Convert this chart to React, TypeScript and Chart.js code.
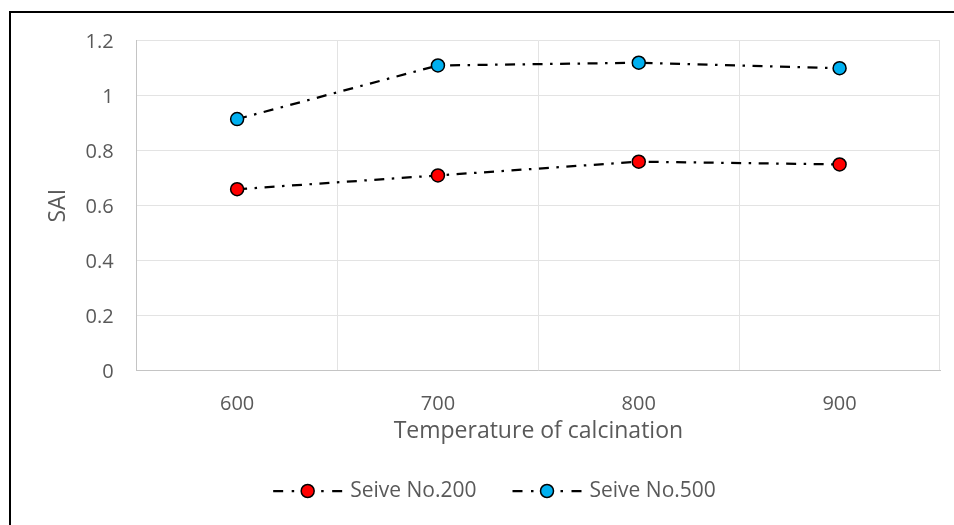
import React, { useEffect, useRef } from 'react';
import { Chart, registerables } from 'chart.js';

Chart.register(...registerables);

const categories = ['600', '700', '800', '900'];
const seive200 = [0.66, 0.71, 0.76, 0.75];
const seive500 = [0.915, 1.11, 1.12, 1.1];
const seriesLabels = ['Seive No.200', 'Seive No.500'];
const seriesColors = ['#ff0000', '#00b0f0'];
const yMin = 0;
const yMax = 1.2;
const yStep = 0.2;
const xTitle = 'Temperature of calcination';
const yTitle = 'SAI';

const FONT = "'Open Sans', 'Noto Sans', sans-serif";
const TEXT = '#595959';
const DASH = [10, 7.5, 2.5, 7.5];

const legendPlugin = {
  id: 'excelLegend',
  afterDraw(chart: any) {
    const ctx = chart.ctx as CanvasRenderingContext2D;
    ctx.save();
    ctx.font = `21px ${FONT}`;
    const lineW = 70;
    const textGap = 7;
    const itemGap = 36;
    const items = chart.data.datasets.map((ds: any) => ({
      ds,
      w: lineW + textGap + ctx.measureText(ds.label).width,
    }));
    const total = items.reduce((s: number, i: any) => s + i.w, 0) + itemGap * (items.length - 1);
    let x = 494.5 - total / 2;
    const y = 491;
    for (const it of items) {
      ctx.strokeStyle = '#000';
      ctx.lineWidth = 2.25;
      ctx.lineCap = 'butt';
      ctx.setLineDash([10, 8.5, 2.5, 8.5]);
      ctx.beginPath();
      ctx.moveTo(x, y);
      ctx.lineTo(x + lineW, y);
      ctx.stroke();
      ctx.setLineDash([]);
      ctx.beginPath();
      ctx.arc(x + 34.5, y, 6.5, 0, Math.PI * 2);
      ctx.fillStyle = it.ds.pointBackgroundColor;
      ctx.fill();
      ctx.lineWidth = 1.5;
      ctx.stroke();
      ctx.fillStyle = TEXT;
      ctx.textBaseline = 'middle';
      ctx.textAlign = 'left';
      ctx.fillText(it.ds.label, x + lineW + textGap, y);
      x += it.w + itemGap;
    }
    ctx.restore();
  },
};

export default function App() {
  const ref = useRef<HTMLCanvasElement | null>(null);

  useEffect(() => {
    if (!ref.current) return;
    const series = [seive200, seive500];
    const chart = new Chart(ref.current, {
      type: 'line',
      data: {
        labels: categories,
        datasets: series.map((d, i) => ({
          label: seriesLabels[i],
          data: d,
          borderColor: '#000',
          borderWidth: 2.25,
          borderDash: DASH,
          borderCapStyle: 'butt',
          pointRadius: 6.5,
          pointHoverRadius: 6.5,
          pointBorderWidth: 1.5,
          pointBorderColor: '#000',
          pointBackgroundColor: seriesColors[i],
          fill: false,
          tension: 0,
        })),
      },
      options: {
        animation: false,
        responsive: false,
        devicePixelRatio: 1,
        layout: { padding: { left: 45, top: 40.7, right: 14, bottom: 80.2 } },
        plugins: {
          legend: { display: false },
          tooltip: { enabled: false },
        },
        scales: {
          x: {
            type: 'category',
            offset: true,
            grid: { offset: true, color: '#e3e3e3', lineWidth: 1, drawTicks: false },
            border: { color: '#c4c4c4', width: 1 },
            ticks: { color: TEXT, font: { family: FONT, size: 20 }, padding: 22 },
            title: {
              display: true,
              text: xTitle,
              color: TEXT,
              font: { family: FONT, size: 23 },
              padding: 0,
            },
            afterFit: (s: any) => {
              s.height = 74.1;
            },
          },
          y: {
            min: yMin,
            max: yMax,
            grid: { color: '#e3e3e3', lineWidth: 1, drawTicks: false },
            border: { color: '#c4c4c4', width: 1 },
            ticks: {
              stepSize: yStep,
              color: TEXT,
              font: { family: FONT, size: 20 },
              padding: 23,
              labelOffset: 1.5,
              callback: (v: any) => String(Number(Number(v).toFixed(1))),
            },
            title: {
              display: true,
              text: yTitle,
              color: TEXT,
              font: { family: FONT, size: 23 },
              padding: 0,
            },
            afterFit: (s: any) => {
              s.width = 91.7;
            },
          },
        },
      },
      plugins: [legendPlugin],
    } as any);
    return () => chart.destroy();
  }, []);

  return (
    <div
      style={{
        position: 'fixed',
        left: 0,
        top: 0,
        width: 954,
        height: 525,
        overflow: 'hidden',
        background: '#fff',
      }}
    >
      <div
        style={{
          position: 'absolute',
          left: 9,
          top: 11,
          width: 1000,
          height: 600,
          borderTop: '2px solid #000',
          borderLeft: '2px solid #000',
        }}
      />
      <canvas
        ref={ref}
        width={954}
        height={525}
        style={{ position: 'absolute', left: 0, top: 0, width: 954, height: 525 }}
      />
    </div>
  );
}
